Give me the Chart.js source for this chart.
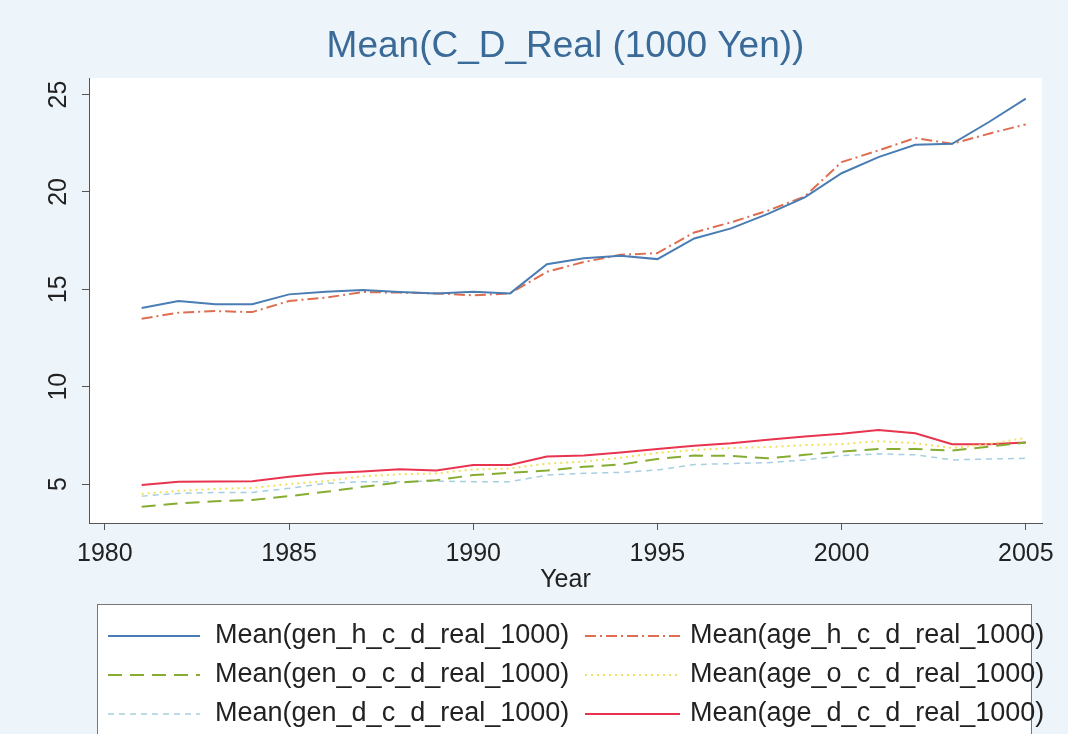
<!DOCTYPE html>
<html>
<head>
<meta charset="utf-8">
<script src="https://cdn.jsdelivr.net/npm/chart.js@4.4.1/dist/chart.umd.min.js"></script>
<style>
  html, body { margin: 0; padding: 0; background: #eef5fa; }
  canvas { display: block; }
</style>
</head>
<body>
<canvas id="myChart" width="1068" height="734"></canvas>
<script>
const years = [1981, 1982, 1983, 1984, 1985, 1986, 1987, 1988, 1989, 1990, 1991, 1992, 1993,
  1994, 1995, 1996, 1997, 1998, 1999, 2000, 2001, 2002, 2003, 2004, 2005];

const genH = [14.04, 14.4, 14.23, 14.23, 14.74, 14.88, 14.96, 14.86, 14.79, 14.88, 14.79, 16.29, 16.6,
  16.72, 16.55, 17.61, 18.13, 18.87, 19.72, 20.96, 21.79, 22.42, 22.47, 23.59, 24.79];
const ageH = [13.49, 13.8, 13.88, 13.83, 14.4, 14.57, 14.86, 14.83, 14.79, 14.69, 14.79, 15.9, 16.4,
  16.77, 16.86, 17.92, 18.44, 19.04, 19.77, 21.53, 22.13, 22.77, 22.47, 22.99, 23.47];
const genO = [3.83, 4.0, 4.12, 4.18, 4.38, 4.6, 4.86, 5.08, 5.2, 5.46, 5.58, 5.69, 5.89,
  6.0, 6.29, 6.46, 6.45, 6.32, 6.5, 6.67, 6.8, 6.8, 6.72, 6.92, 7.13];
const ageO = [4.5, 4.65, 4.75, 4.8, 5.0, 5.15, 5.4, 5.5, 5.55, 5.75, 5.8, 6.05, 6.15,
  6.35, 6.6, 6.75, 6.85, 6.9, 7.0, 7.05, 7.2, 7.1, 6.85, 7.05, 7.37];
const genD = [4.38, 4.52, 4.57, 4.57, 4.78, 5.04, 5.12, 5.12, 5.15, 5.12, 5.12, 5.46, 5.55,
  5.6, 5.72, 6.0, 6.05, 6.1, 6.24, 6.46, 6.55, 6.5, 6.24, 6.29, 6.32];
const ageD = [4.95, 5.12, 5.13, 5.15, 5.38, 5.55, 5.64, 5.76, 5.69, 5.98, 5.98, 6.41, 6.46,
  6.62, 6.8, 6.97, 7.09, 7.27, 7.44, 7.58, 7.78, 7.61, 7.04, 7.04, 7.13];

const xTicks = [1980, 1985, 1990, 1995, 2000, 2005];
const yTicks = [5, 10, 15, 20, 25];

const titleText = 'Mean(C_D_Real (1000 Yen))';
const FONT = "'Liberation Sans', Arial, sans-serif";

function pts(vals) {
  return vals.map((v, i) => ({ x: years[i], y: v }));
}

function line(label, vals, color, dash, width) {
  return {
    label: label,
    data: pts(vals),
    borderColor: color,
    borderDash: dash,
    borderWidth: width,
    pointRadius: 0,
    tension: 0,
    fill: false
  };
}

// backgrounds: light blue outside, white plot region
const bgPlugin = {
  id: 'bg',
  beforeDraw(chart) {
    const c = chart.ctx, a = chart.chartArea;
    c.save();
    c.fillStyle = '#eef5fa';
    c.fillRect(0, 0, chart.width, chart.height);
    c.fillStyle = '#ffffff';
    c.fillRect(a.left, a.top, a.right - a.left, a.bottom - a.top);
    c.restore();
  }
};

// title over plot region, rotated y tick labels, stata-style legend box
const extrasPlugin = {
  id: 'extras',
  afterDraw(chart) {
    const c = chart.ctx;
    const a = chart.chartArea;
    const ys = chart.scales.y;
    c.save();

    c.fillStyle = '#3a6a98';
    c.font = '37px ' + FONT;
    c.textAlign = 'center';
    c.textBaseline = 'middle';
    c.fillText(titleText, (a.left + a.right) / 2, 47);

    c.fillStyle = '#222222';
    c.font = '25px ' + FONT;
    yTicks.forEach(v => {
      c.save();
      c.translate(59, ys.getPixelForValue(v));
      c.rotate(-Math.PI / 2);
      c.fillText(String(v), 0, 0);
      c.restore();
    });

    // legend
    c.fillStyle = '#ffffff';
    c.fillRect(97, 604, 934, 140);
    c.strokeStyle = '#777777';
    c.lineWidth = 1;
    c.strokeRect(97.5, 604.5, 934, 140);

    const ds = chart.data.datasets;
    const rowY = [636, 675, 714];
    const cols = [{ x0: 108, x1: 200, tx: 215 }, { x0: 585, x1: 680, tx: 690 }];
    ds.forEach((d, i) => {
      const r = Math.floor(i / 2), col = cols[i % 2];
      const y = rowY[r];
      c.save();
      c.strokeStyle = d.borderColor;
      c.lineWidth = d.borderWidth;
      c.setLineDash(d.borderDash || []);
      c.beginPath();
      c.moveTo(col.x0, y);
      c.lineTo(col.x1, y);
      c.stroke();
      c.restore();
      c.fillStyle = '#222222';
      c.font = '27px ' + FONT;
      c.textAlign = 'left';
      c.textBaseline = 'middle';
      c.fillText(d.label, col.tx, y);
    });
    c.restore();
  }
};

var ctx = document.getElementById('myChart').getContext('2d');
var myChart = new Chart(ctx, {
  type: 'line',
  data: {
    datasets: [
      line('Mean(gen_h_c_d_real_1000)', genH, '#4a7db3', [], 2),
      line('Mean(age_h_c_d_real_1000)', ageH, '#df6e50', [11, 4, 2, 4], 2),
      line('Mean(gen_o_c_d_real_1000)', genO, '#86ad32', [14, 8], 2),
      line('Mean(age_o_c_d_real_1000)', ageO, '#f2df5a', [2, 4], 2),
      line('Mean(gen_d_c_d_real_1000)', genD, '#a6cfe0', [6, 5], 1.5),
      line('Mean(age_d_c_d_real_1000)', ageD, '#e8344e', [], 2)
    ]
  },
  options: {
    responsive: false,
    animation: false,
    layout: { padding: { left: 0, right: 26, top: 78, bottom: 139 } },
    plugins: {
      legend: { display: false },
      tooltip: { enabled: false },
      title: { display: false }
    },
    scales: {
      x: {
        type: 'linear',
        min: 1979.57,
        max: 2005.44,
        afterBuildTicks: s => { s.ticks = xTicks.map(v => ({ value: v })); },
        afterFit: s => { s.height = 72; },
        grid: { display: true, drawOnChartArea: false, drawTicks: true, tickLength: 7, color: '#555555' },
        border: { display: true, color: '#555555', width: 1 },
        ticks: {
          color: '#222222',
          font: { family: FONT, size: 25 },
          padding: 9,
          maxRotation: 0,
          callback: v => String(v)
        },
        title: {
          display: true,
          text: 'Year',
          color: '#222222',
          font: { family: FONT, size: 25 },
          padding: { top: 0, bottom: 0 }
        }
      },
      y: {
        type: 'linear',
        min: 3,
        max: 25.85,
        afterBuildTicks: s => { s.ticks = yTicks.map(v => ({ value: v })); },
        afterFit: s => { s.width = 89; },
        grid: { display: true, drawOnChartArea: false, drawTicks: true, tickLength: 7, color: '#555555' },
        border: { display: true, color: '#555555', width: 1 },
        ticks: { display: false }
      }
    }
  },
  plugins: [bgPlugin, extrasPlugin]
});
</script>
</body>
</html>
